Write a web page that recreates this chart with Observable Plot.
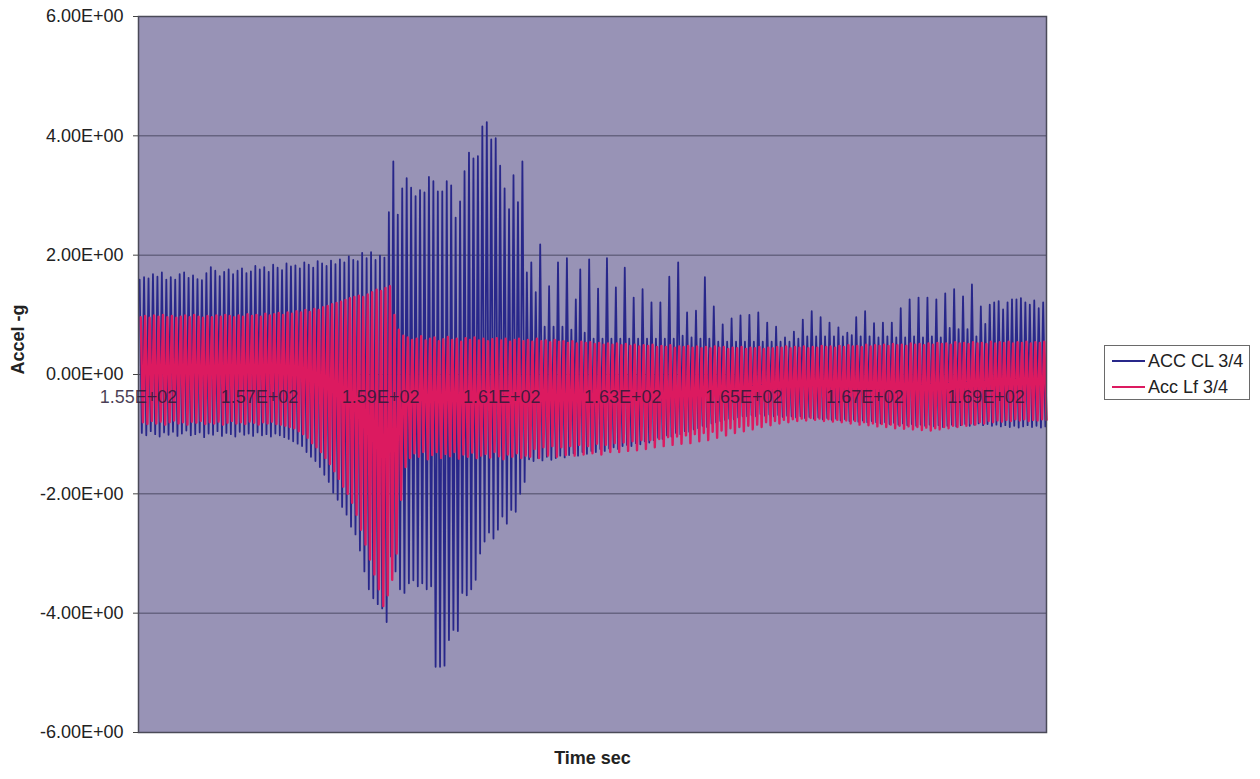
<!DOCTYPE html>
<html>
<head>
<meta charset="utf-8">
<script src="https://cdn.jsdelivr.net/npm/d3@7"></script>
<script src="https://cdn.jsdelivr.net/npm/@observablehq/plot@0.6"></script>
<style>
  html, body { margin: 0; padding: 0; background: #fff; }
  #wrap { position: relative; width: 1260px; height: 779px; font-family: "Liberation Sans", Arial, sans-serif; }
  #legend {
    position: absolute; left: 1104px; top: 345px; width: 146px; height: 55px;
    border: 1px solid #6a6a6a; background: #fff; box-sizing: border-box;
    font-size: 18px; color: #222;
  }
  #legend .row { position: absolute; left: 7px; height: 20px; display: flex; align-items: center; white-space: nowrap; }
  #legend .sw { width: 33px; height: 2px; margin-right: 3px; }
</style>
</head>
<body>
<div id="wrap"></div>
<script>
// Time window (s) and axis ticks
const tStart = 155, tEnd = 170;
const xTicks = [155, 157, 159, 161, 163, 165, 167, 169];
const yTicks = [-6, -4, -2, 0, 2, 4, 6];

// ACC CL 3/4 — positive peak of each oscillation cycle (g)
const clPeaks = [
  1.59,1.63,1.61,1.68,1.64,1.71,1.59,1.63,1.59,1.68,
  1.71,1.62,1.66,1.60,1.58,1.70,1.80,1.74,1.65,1.72,
  1.76,1.68,1.74,1.78,1.70,1.73,1.82,1.76,1.80,1.72,
  1.84,1.79,1.75,1.86,1.81,1.83,1.78,1.88,1.84,1.79,
  1.90,1.86,1.82,1.91,1.85,1.93,1.88,1.98,1.92,1.90,
  2.04,1.95,2.05,1.92,1.99,1.96,
  2.72,3.57,2.68,3.12,3.29,3.13,2.99,3.09,3.05,3.31,
  3.24,3.07,3.07,3.24,3.17,2.63,2.90,3.41,3.72,3.62,
  3.66,4.16,4.23,3.94,3.96,3.50,3.12,2.77,3.34,2.89,3.57,
  1.71,1.88,1.38,2.18,0.80,1.48,0.80,1.88,0.80,1.95,
  0.75,1.26,1.76,0.70,1.93,0.60,1.44,0.60,1.95,0.60,
  1.46,0.60,1.79,0.60,1.29,0.60,1.43,0.60,1.21,0.60,
  1.21,0.60,1.64,0.60,1.88,0.65,1.04,0.62,1.07,0.60,
  1.63,0.60,1.14,0.55,0.84,0.55,0.94,0.55,0.99,0.55,
  1.00,0.55,1.04,0.55,0.87,0.55,0.80,0.55,0.62,0.55,
  0.72,0.60,0.92,0.64,1.06,0.64,0.96,0.64,0.87,0.64,
  0.79,0.64,0.70,0.66,0.96,0.64,1.06,0.64,0.86,0.62,
  0.87,0.64,0.87,0.62,1.11,0.62,1.26,0.64,1.29,0.62,
  1.29,0.64,1.26,0.62,1.36,0.78,1.43,0.76,1.31,0.76,
  1.51,0.64,1.14,0.85,1.17,1.21,1.23,1.09,1.21,1.26,
  1.26,1.28,1.21,1.17,1.24,1.11,1.21
];

// ACC CL 3/4 — negative peak of each cycle (g)
const clTroughs = [
  -0.98,-1.02,-0.95,-1.00,-1.04,-0.97,-1.01,-0.96,-1.03,-0.99,
  -0.94,-1.02,-1.00,-0.97,-1.05,-0.99,-1.01,-0.95,-1.03,-0.98,
  -1.00,-1.04,-0.96,-1.01,-0.99,-1.03,-0.97,-1.02,-1.00,-1.04,-0.99,
  -1.02,-1.05,-1.08,-1.12,-1.16,-1.20,-1.30,-1.38,-1.45,-1.55,
  -1.68,-1.80,-1.98,-2.10,-2.22,-2.35,-2.55,-2.68,-2.95,-3.30,
  -3.60,-3.75,-3.85,-3.92,-4.15,
  -3.05,-3.30,-3.60,-3.66,-3.50,-3.45,-3.55,-3.50,-3.60,-3.55,
  -4.90,-4.90,-4.88,-4.45,-4.28,-4.30,-3.66,-3.70,-3.60,-3.44,
  -3.00,-2.80,-2.65,-2.75,-2.60,-2.38,-2.50,-2.27,-2.30,-2.00,-1.80,
  -1.42,-1.45,-1.40,-1.44,-1.38,-1.43,-1.40,-1.36,-1.39,
  -1.35,-1.32,-1.36,-1.30,-1.33,-1.28,-1.30,-1.25,-1.28,-1.24,
  -1.22,-1.25,-1.20,-1.18,-1.20,-1.15,-1.17,-1.12,-1.14,-1.10,
  -1.06,-1.08,-1.02,-1.04,-0.98,-1.00,-0.95,-0.96,-0.92,-0.90,
  -0.86,-0.88,-0.82,-0.80,-0.78,-0.76,-0.74,-0.75,-0.72,-0.70,
  -0.70,-0.68,-0.70,-0.66,-0.69,-0.67,-0.70,-0.68,-0.71,-0.69,
  -0.70,-0.72,-0.70,-0.73,-0.71,-0.74,-0.72,-0.75,-0.73,-0.76,
  -0.74,-0.77,-0.75,-0.78,-0.76,-0.79,-0.77,-0.80,-0.78,-0.80,
  -0.82,-0.80,-0.83,-0.81,-0.84,-0.82,-0.85,-0.83,-0.86,-0.84,
  -0.86,-0.84,-0.87,-0.85,-0.88,-0.86,-0.84,-0.87,-0.85,-0.83,
  -0.86,-0.84,-0.82,-0.85,-0.83,-0.86,-0.84,-0.87,-0.85,-0.88,
  -0.86,-0.89,-0.87,-0.85,-0.88,-0.86,-0.89,-0.87
];

// Acc Lf 3/4 — positive peak of each cycle (g)
const lfPeaks = [
  0.96,0.98,0.95,0.99,0.97,1.00,0.96,0.98,0.95,0.97,
  0.99,0.96,1.00,0.97,0.95,0.98,0.96,0.99,0.97,1.00,
  0.98,0.96,0.99,0.97,1.01,0.98,1.00,0.97,1.02,0.99,1.01,
  1.03,1.00,1.04,1.02,1.06,1.04,1.08,1.05,1.10,1.08,
  1.13,1.15,1.18,1.20,1.22,1.25,1.28,1.30,1.32,1.30,
  1.34,1.38,1.42,1.40,1.45,1.48,
  1.00,0.75,0.65,
  0.62,0.58,0.60,0.64,0.57,0.60,0.62,0.56,0.59,0.63,
  0.58,0.60,0.55,0.61,0.58,0.62,0.57,0.60,0.56,0.59,
  0.61,0.57,0.60,0.55,0.58,0.60,0.56,
  0.58,0.55,0.60,0.56,0.57,0.54,0.58,0.55,0.56,0.53,
  0.56,0.52,0.55,0.53,0.54,0.51,0.53,0.50,0.52,0.50,
  0.52,0.49,0.51,0.48,0.50,0.47,0.49,0.48,0.50,0.46,
  0.48,0.46,0.49,0.45,0.47,0.46,0.48,0.45,0.47,0.44,
  0.46,0.44,0.47,0.45,0.46,0.43,0.45,0.44,0.46,0.43,
  0.45,0.44,0.46,0.43,0.45,0.44,0.46,0.45,0.47,0.44,
  0.46,0.45,0.47,0.44,0.46,0.45,0.48,0.46,0.47,0.45,
  0.48,0.46,0.49,0.47,0.48,0.46,0.50,0.47,0.49,0.48,
  0.50,0.48,0.51,0.49,0.50,0.48,0.52,0.50,0.51,0.49,
  0.52,0.50,0.53,0.51,0.52,0.50,0.54,0.52,0.53,0.51,
  0.54,0.52,0.53,0.51,0.55,0.52,0.54,0.53,0.55,0.52,
  0.54,0.53,0.55,0.52,0.54,0.53,0.55
];

// Acc Lf 3/4 — negative peak of each cycle (g)
const lfTroughs = [
  -0.80,-0.83,-0.78,-0.82,-0.79,-0.84,-0.80,-0.77,-0.82,-0.80,
  -0.84,-0.79,-0.81,-0.78,-0.83,-0.80,-0.82,-0.79,-0.84,-0.81,
  -0.78,-0.82,-0.80,-0.83,-0.79,-0.81,-0.84,-0.80,-0.82,-0.79,-0.83,
  -0.84,-0.86,-0.88,-0.90,-0.95,-1.00,-1.06,-1.15,-1.22,-1.30,
  -1.40,-1.50,-1.62,-1.75,-1.88,-2.00,-2.15,-2.35,-2.60,-2.85,
  -3.10,-3.35,-3.60,-3.88,-3.70,-3.44,-3.00,-2.10,-1.55,
  -1.40,-1.32,-1.38,-1.30,-1.42,-1.35,-1.30,-1.40,-1.33,-1.37,
  -1.30,-1.41,-1.34,-1.38,-1.31,-1.40,-1.36,-1.33,-1.39,-1.30,
  -1.37,-1.42,-1.34,-1.38,-1.32,-1.40,-1.36,
  -1.38,-1.25,-1.40,-1.22,-1.36,-1.20,-1.38,-1.22,-1.35,-1.20,
  -1.36,-1.18,-1.34,-1.20,-1.32,-1.16,-1.34,-1.18,-1.30,-1.15,
  -1.30,-1.14,-1.28,-1.12,-1.27,-1.10,-1.25,-1.10,-1.22,-1.08,
  -1.20,-1.05,-1.18,-1.04,-1.16,-1.02,-1.15,-1.00,-1.12,-0.98,
  -1.10,-0.96,-1.06,-0.94,-1.02,-0.90,-0.98,-0.88,-0.95,-0.86,
  -0.92,-0.84,-0.88,-0.80,-0.85,-0.78,-0.82,-0.76,-0.80,-0.75,
  -0.78,-0.74,-0.77,-0.73,-0.76,-0.74,-0.78,-0.75,-0.79,-0.76,
  -0.80,-0.77,-0.82,-0.78,-0.84,-0.80,-0.85,-0.82,-0.87,-0.83,
  -0.88,-0.84,-0.90,-0.86,-0.91,-0.87,-0.92,-0.88,-0.93,-0.89,
  -0.94,-0.90,-0.92,-0.88,-0.90,-0.86,-0.88,-0.84,-0.86,-0.82,
  -0.84,-0.80,-0.82,-0.78,-0.80,-0.77,-0.79,-0.76,-0.78,-0.75,
  -0.77,-0.75,-0.78,-0.76,-0.77,-0.75,-0.76
];

const colors = { cl: "#28278a", lf: "#dc1a60" };

// Excel-style scientific notation, e.g. 1.55E+02
function sci(v) {
  if (v === 0) return "0.00E+00";
  const e = Math.floor(Math.log10(Math.abs(v)) + 1e-9);
  const m = v / Math.pow(10, e);
  return m.toFixed(2) + "E" + (e < 0 ? "-" : "+") + String(Math.abs(e)).padStart(2, "0");
}

// Expand per-cycle peaks/troughs into a sampled oscillation over the time window
function cycles(peaks, troughs, phase) {
  const n = peaks.length, dt = (tEnd - tStart) / n;
  return peaks.flatMap((p, i) => [
    { t: tStart + (i + phase) * dt, v: p },
    { t: tStart + (i + phase + 0.5) * dt, v: troughs[i] }
  ]);
}

const clData = cycles(clPeaks, clTroughs, 0.25);
const lfData = cycles(lfPeaks, lfTroughs, 0.5);

const chart = Plot.plot({
  width: 1260,
  height: 779,
  marginLeft: 138,
  marginRight: 214,
  marginTop: 16,
  marginBottom: 47,
  style: { fontFamily: "Liberation Sans, Arial, sans-serif", fontSize: "18px", color: "#222", background: "#fff" },
  x: { domain: [tStart, tEnd], axis: null },
  y: { domain: [-6, 6], axis: null },
  marks: [
    Plot.frame({ fill: "#9893b6", stroke: null }),
    Plot.gridY(yTicks.filter(d => d > -6 && d < 6), { stroke: "#4e4c66", strokeOpacity: 1, strokeWidth: 1 }),
    Plot.line(clData, { x: "t", y: "v", stroke: colors.cl, strokeWidth: 1.8 }),
    Plot.line(lfData, { x: "t", y: "v", stroke: colors.lf, strokeWidth: 2.4 }),
    Plot.frame({ stroke: "#4a4a58", strokeWidth: 1.5 }),
    Plot.axisY(yTicks, { tickFormat: sci, tickSize: 5, tickPadding: 10, fontSize: 18, stroke: "#444", label: null }),
    Plot.text(xTicks, { x: d => d, y: 0, dy: 23, text: sci, fontSize: 18, fill: "#2a1a38", fillOpacity: 0.85 }),
    Plot.text(["Time sec"], { frameAnchor: "bottom", dy: 31, fontSize: 18, fontWeight: "bold", fill: "#222" }),
    Plot.text(["Accel -g"], { frameAnchor: "left", dx: -120, rotate: -90, fontSize: 18, fontWeight: "bold", fill: "#222" })
  ]
});

const wrap = document.getElementById("wrap");
wrap.appendChild(chart);

// Legend box to the right of the plot area
const legend = document.createElement("div");
legend.id = "legend";
legend.innerHTML =
  `<div class="row" style="top:5px"><span class="sw" style="background:${colors.cl}"></span>ACC CL 3/4</div>` +
  `<div class="row" style="top:31px"><span class="sw" style="background:${colors.lf}"></span>Acc Lf 3/4</div>`;
wrap.appendChild(legend);
</script>
</body>
</html>
